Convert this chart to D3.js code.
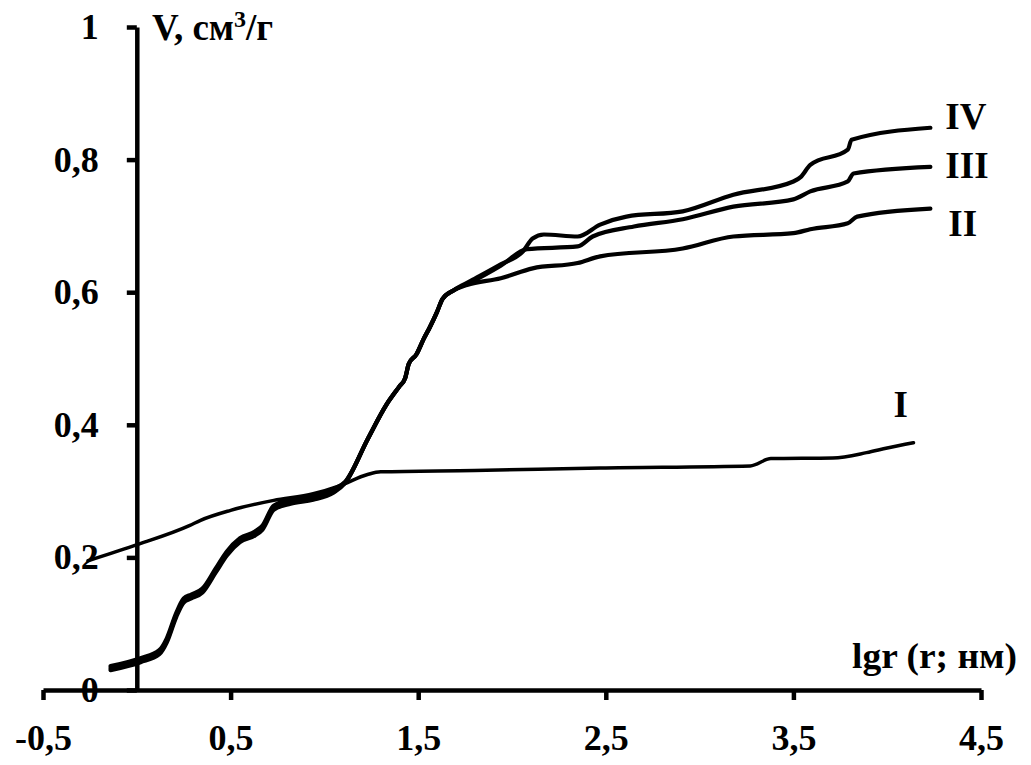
<!DOCTYPE html>
<html>
<head>
<meta charset="utf-8">
<script src="https://cdn.jsdelivr.net/npm/d3@7"></script>
<style>
  html, body { margin: 0; padding: 0; background: #fff; }
  svg text { font-family: "Liberation Serif", "Times New Roman", serif; font-weight: bold; fill: #000; }
</style>
</head>
<body>
<svg id="chart" width="1031" height="765"></svg>
<script>
// Axis ticks
const xTicks = [-0.5, 0.5, 1.5, 2.5, 3.5, 4.5];
const yTicks = [0, 0.2, 0.4, 0.6, 0.8, 1];

// Cumulative pore volume V (cm3/g) against lg r (r in nm)
const seriesI = [[-0.26,0.195],[0.01,0.220],[0.28,0.248],[0.34,0.256],[0.50,0.271],[0.73,0.286],[0.94,0.296],[1.08,0.308],[1.23,0.325],[1.30,0.329],[1.80,0.331],[2.47,0.335],[3.27,0.338],[3.38,0.349],[3.71,0.350],[3.89,0.358],[4.00,0.365],[4.14,0.373]];

const seriesII = [[-0.14,0.030],[0.02,0.042],[0.12,0.054],[0.16,0.072],[0.21,0.110],[0.25,0.132],[0.29,0.138],[0.35,0.147],[0.42,0.177],[0.48,0.203],[0.55,0.223],[0.63,0.233],[0.67,0.242],[0.73,0.272],[0.82,0.281],[0.94,0.287],[1.05,0.298],[1.11,0.312],
  [1.23,0.378],[1.33,0.430],[1.40,0.458],[1.43,0.470],[1.45,0.492],[1.49,0.506],[1.53,0.530],[1.56,0.546],[1.60,0.570],[1.63,0.590],[1.69,0.603],
  [1.76,0.611],[1.94,0.621],[2.11,0.636],[2.35,0.644],[2.47,0.654],[2.91,0.666],[3.18,0.684],[3.50,0.689],[3.59,0.695],[3.79,0.704],[3.84,0.714],[4.23,0.726]];

const seriesIII = [[-0.14,0.036],[0.02,0.048],[0.12,0.060],[0.16,0.078],[0.21,0.116],[0.25,0.138],[0.29,0.144],[0.35,0.153],[0.42,0.183],[0.48,0.209],[0.55,0.229],[0.63,0.239],[0.67,0.248],[0.73,0.278],[0.82,0.287],[0.94,0.293],[1.05,0.303],[1.11,0.314],
  [1.23,0.378],[1.33,0.430],[1.40,0.458],[1.43,0.470],[1.45,0.492],[1.49,0.506],[1.53,0.530],[1.56,0.546],[1.60,0.570],[1.63,0.590],[1.69,0.603],
  [1.78,0.615],[1.94,0.640],[2.08,0.665],[2.35,0.669],[2.43,0.684],[2.65,0.699],[2.91,0.710],[3.18,0.729],[3.50,0.740],[3.59,0.752],[3.79,0.767],[3.82,0.779],[4.23,0.789]];

const seriesIV = [[-0.14,0.033],[0.02,0.045],[0.12,0.057],[0.16,0.075],[0.21,0.113],[0.25,0.135],[0.29,0.141],[0.35,0.150],[0.42,0.180],[0.48,0.206],[0.55,0.226],[0.63,0.236],[0.67,0.245],[0.73,0.275],[0.82,0.284],[0.94,0.290],[1.05,0.301],[1.11,0.313],
  [1.23,0.378],[1.33,0.430],[1.40,0.458],[1.43,0.470],[1.45,0.492],[1.49,0.506],[1.53,0.530],[1.56,0.546],[1.60,0.570],[1.63,0.590],[1.69,0.603],
  [1.78,0.617],[1.94,0.642],[2.06,0.662],[2.11,0.681],[2.17,0.687],[2.35,0.684],[2.47,0.702],[2.61,0.714],[2.91,0.722],[3.18,0.747],[3.50,0.767],[3.54,0.774],[3.59,0.792],[3.79,0.815],[3.81,0.830],[4.23,0.848]];

const seriesNames = ["I", "II", "III", "IV"];

const svg = d3.select("#chart");

const x = d3.scaleLinear().domain([-0.5, 4.5]).range([43, 981]);
const y = d3.scaleLinear().domain([0, 1]).range([690, 27]);

const fmt = d => String(d).replace(".", ",");

// x axis along V = 0
const gx = svg.append("g")
  .attr("transform", `translate(0,${y(0)})`)
  .call(d3.axisBottom(x).tickValues(xTicks).tickSize(10).tickSizeOuter(0).tickPadding(24).tickFormat(fmt));

// y axis at lg r = 0
const gy = svg.append("g")
  .attr("transform", `translate(${x(0)},0)`)
  .call(d3.axisLeft(y).tickValues(yTicks).tickSize(10).tickSizeOuter(0).tickPadding(28).tickFormat(fmt));

[gx, gy].forEach(g => {
  g.select(".domain").attr("stroke", "#000").attr("stroke-width", 4.5);
  g.selectAll(".tick line").attr("stroke", "#000").attr("stroke-width", 4.5);
  g.selectAll(".tick text").attr("font-size", 36).attr("fill", "#000")
    .attr("font-family", "Liberation Serif, Times New Roman, serif").attr("font-weight", "bold");
});

// Axis titles
const yTitle = svg.append("text").attr("x", 152).attr("y", 40).attr("font-size", 37);
yTitle.append("tspan").text("V, см");
yTitle.append("tspan").attr("font-size", 24).attr("dy", -13).text("3");
yTitle.append("tspan").attr("dy", 13).text("/г");

svg.append("text").attr("x", 1017).attr("y", 668).attr("text-anchor", "end")
  .attr("font-size", 35).attr("textLength", 165).attr("lengthAdjust", "spacingAndGlyphs")
  .text("lgr (r; нм)");

// Curves
const line = d3.line().x(d => x(d[0])).y(d => y(d[1])).curve(d3.curveMonotoneX);
const curves = [seriesI, seriesII, seriesIII, seriesIV];
const widths = [3.5, 4.2, 4.2, 4.2];

curves.forEach((s, i) => {
  svg.append("path").datum(s)
    .attr("d", line)
    .attr("fill", "none")
    .attr("stroke", "#000")
    .attr("stroke-width", widths[i])
    .attr("stroke-linejoin", "round")
    .attr("stroke-linecap", "round");
});

// Curve labels beside the line ends
const labelOffsets = [[-20, -26], [18, 27], [15, 11], [15, 1]];
curves.forEach((s, i) => {
  const last = s[s.length - 1];
  svg.append("text")
    .attr("x", x(last[0]) + labelOffsets[i][0])
    .attr("y", y(last[1]) + labelOffsets[i][1])
    .attr("font-size", 37)
    .text(seriesNames[i]);
});
</script>
</body>
</html>
